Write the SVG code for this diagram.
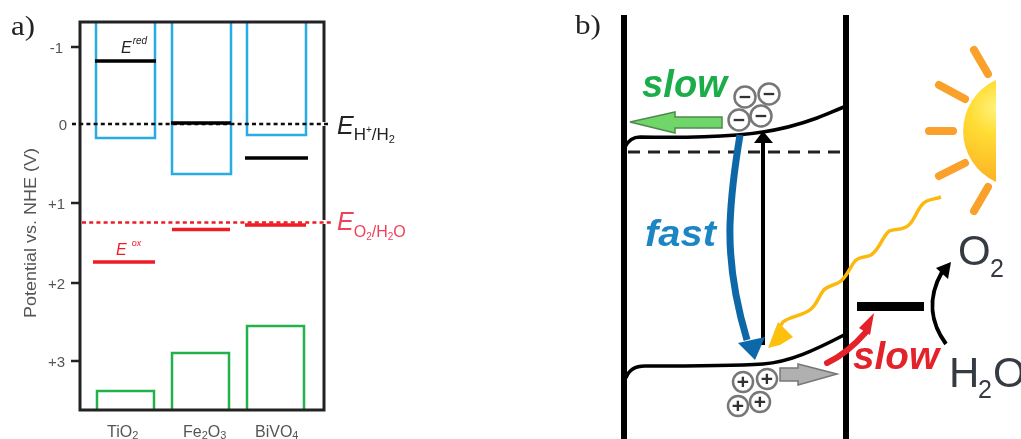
<svg xmlns="http://www.w3.org/2000/svg" width="1021" height="439" viewBox="0 0 1021 439">
<style>
text{font-family:"Liberation Sans",Arial,sans-serif}
.lab{font-family:"Liberation Serif","Times New Roman",serif;font-size:27px;fill:#222}
.tick{font-size:15px;fill:#555;text-anchor:end}
.mat{font-size:16px;fill:#555}
.cb{fill:none;stroke:#29abe2;stroke-width:2.5}
.vb{fill:none;stroke:#22b14c;stroke-width:2.5}
.lk{stroke:#000;stroke-width:3.5;fill:none}
.lr{stroke:#ee1c25;stroke-width:3.5;fill:none}
.tk{stroke:#222;stroke-width:2.5}
.em{font-style:italic}
.slow{font-size:38px;font-weight:bold;font-style:italic}
.wall{stroke:#000;stroke-width:6}
.c{fill:#fff;stroke:#777;stroke-width:2.5}
.s{font-size:21px;font-weight:bold;fill:#333;text-anchor:middle}
.ray{stroke:#f9a12b;stroke-width:8;stroke-linecap:round}
.gas{font-size:42px;fill:#353b42}
.gs{font-size:25px;fill:#353b42}
</style>
<defs>
<radialGradient id="sun" gradientUnits="userSpaceOnUse" cx="996" cy="108" r="78">
<stop offset="0" stop-color="#fff27a"/><stop offset=".35" stop-color="#ffdc32"/><stop offset="1" stop-color="#fbb024"/>
</radialGradient>
<filter id="soft" x="0" y="0" width="100%" height="100%"><feGaussianBlur stdDeviation="0.55"/></filter>
</defs>
<rect width="1021" height="439" fill="#fff"/>
<g filter="url(#soft)">
<g id="panel-a">
<text class="lab" x="11" y="35" textLength="24" lengthAdjust="spacingAndGlyphs">a)</text>
<g id="cb-bands">
<path class="cb" d="M96 23V138H155V23"/>
<path class="cb" d="M172 23V174H231V23"/>
<path class="cb" d="M247 23V135H306V23"/>
</g>
<g id="vb-bands">
<path class="vb" d="M97 409V391H154V409"/>
<path class="vb" d="M172 409V353H229V409"/>
<path class="vb" d="M247 409V326H304V409"/>
</g>
<rect x="80" y="22" width="244" height="388" fill="none" stroke="#222" stroke-width="3"/>
<g id="ticks">
<path class="tk" d="M71 47H80M71 203H80M71 283H80M71 361H80"/>
<text class="tick" x="63" y="53">-1</text>
<text class="tick" x="67" y="130">0</text>
<text class="tick" x="65" y="209">+1</text>
<text class="tick" x="65" y="289">+2</text>
<text class="tick" x="65" y="367">+3</text>
<text transform="translate(36 233) rotate(-90)" text-anchor="middle" font-size="16" fill="#555" textLength="170" lengthAdjust="spacingAndGlyphs">Potential vs. NHE (V)</text>
</g>
<g id="levels">
<path d="M322 124H326M322 222H326" stroke="#fff" stroke-width="4"/>
<path d="M72 124H331" stroke="#111" stroke-width="2.5" stroke-dasharray="4 3.2"/>
<path d="M82 222.500H331" stroke="#ee1c25" stroke-width="2.500" stroke-dasharray="4 3.200"/>
<path class="lk" d="M95 61H156M171 123H231M245 158H308"/>
<path class="lr" d="M93 262H155M172 229.500H230M245 225H306"/>
</g>
<text class="em" x="121" y="53" font-size="16" fill="#222">E<tspan font-size="10" dx="1" dy="-9">red</tspan></text>
<text class="em" x="116" y="255" font-size="16" fill="#ee1c25">E<tspan font-size="9" dx="5" dy="-9">ox</tspan></text>
<text x="337" y="134" font-size="25" fill="#222"><tspan class="em">E</tspan><tspan font-size="17" dy="6">H<tspan font-size="10" dy="-7">+</tspan><tspan dy="7">/H</tspan><tspan font-size="11" dy="3">2</tspan></tspan></text>
<text x="337" y="230" font-size="25" fill="#f0405a"><tspan class="em">E</tspan><tspan font-size="16" dy="7">O<tspan font-size="10" dy="3">2</tspan><tspan dy="-3">/H</tspan><tspan font-size="10" dy="3">2</tspan><tspan dy="-3">O</tspan></tspan></text>
<g id="materials">
<text class="mat" x="107" y="437">TiO<tspan font-size="11" dy="2">2</tspan></text>
<text class="mat" x="183" y="437">Fe<tspan font-size="11" dy="2">2</tspan><tspan dy="-2">O</tspan><tspan font-size="11" dy="2">3</tspan></text>
<text class="mat" x="255" y="437">BiVO<tspan font-size="11" dy="2">4</tspan></text>
</g>
</g>
<g id="panel-b">
<text class="lab" x="575" y="34" textLength="26" lengthAdjust="spacingAndGlyphs">b)</text>
<g id="walls">
<path class="wall" d="M624 15V439M846 15V439"/>
</g>
<g id="connectors" fill="none" stroke-linejoin="round">
<path d="M625 147Q630 137 640 137C680 138 710 137 737 135C765 133 790 128 817 118C828 114 836 110 844 107" stroke="#000" stroke-width="3.500"/>
<path d="M628 152H840" stroke="#222" stroke-width="3" stroke-dasharray="12 8"/>
<path d="M626 378Q630 366 645 366C690 366 730 366 763 364C790 362 815 350 844 335" stroke="#000" stroke-width="3.500"/>
<path d="M763 345V138" stroke="#000" stroke-width="4"/>
<path d="M763 131L773 143H754Z" fill="#000"/>
<path d="M740 135C735 165 731 195 730 225C729 265 735 300 747 340" stroke="#0f68a8" stroke-width="7"/>
<path d="M755 360L738 343L765 337Z" fill="#0f68a8"/>
<path d="M941 197C932 200 926 199 921 206C915 214 913 224 906 227C899 231 893 228 888 232C882 238 879 250 871 255C865 258 860 256 855 261C850 267 848 275 841 281C835 286 827 285 823 291C818 298 817 304 811 309C803 316 790 316 783 322L776 332" stroke="#fbb80f" stroke-width="3.500"/>
<path d="M768 348L778 322L793 337L780 345Z" fill="#fcc00d"/>
<path d="M827 363C840 357 852 348 866 332" stroke="#e3202c" stroke-width="6" stroke-linecap="round"/>
<path d="M874 313L859 328L870 335Z" fill="#e3202c"/>
<path d="M946 344C932 325 926 300 942 272" stroke="#000" stroke-width="4"/>
<path d="M951 262L936 268L948 279Z" fill="#000"/>
</g>
<g id="arrow-electron-slow">
<path d="M630 122L675 112V117H722V128H675V133Z" fill="#71d66b" stroke="#4d8a4d" stroke-width="1.500"/>
<text class="slow" x="642" y="97" fill="#1cad4b" textLength="85" lengthAdjust="spacingAndGlyphs">slow</text>
</g>
<g id="label-fast"><text x="645" y="246" font-size="36" font-weight="bold" font-style="italic" fill="#1b86c5" textLength="71" lengthAdjust="spacingAndGlyphs">fast</text></g>
<g id="electrons">
<circle class="c" cx="745" cy="97" r="10.500"/><text class="s" x="745" y="104">−</text>
<circle class="c" cx="769" cy="94" r="10.500"/><text class="s" x="769" y="101">−</text>
<circle class="c" cx="739" cy="120" r="10.500"/><text class="s" x="739" y="127">−</text>
<circle class="c" cx="761" cy="116" r="10.500"/><text class="s" x="761" y="123">−</text>
</g>
<g id="holes">
<circle class="c" cx="743" cy="382" r="10"/><text class="s" x="743" y="389">+</text>
<circle class="c" cx="767" cy="379" r="10"/><text class="s" x="767" y="386">+</text>
<circle class="c" cx="738" cy="406" r="10"/><text class="s" x="738" y="413">+</text>
<circle class="c" cx="760" cy="402" r="10"/><text class="s" x="760" y="409">+</text>
</g>
<g id="arrow-hole-slow">
<path d="M837 374L798 364V368H780V381H798V385Z" fill="#b0b0b0" stroke="#777" stroke-width="1.500"/>
</g>
<g id="label-slow-red"><text class="slow" x="853" y="369" fill="#e3202c" textLength="86" lengthAdjust="spacingAndGlyphs">slow</text></g>
<g id="cocatalyst"><rect x="857" y="302" width="67" height="9" fill="#000"/></g>
<g id="o2"><text class="gas" x="958" y="265">O</text><text class="gs" x="990" y="277">2</text></g>
<g id="h2o"><text class="gas" x="949" y="387">H</text><text class="gs" x="978" y="398">2</text><text class="gas" x="993" y="387">O</text></g>
<g id="sun-icon">
<path d="M996 80A56 56 0 0 0 996 182Z" fill="url(#sun)"/>
<path class="ray" d="M974 50L988 74M939 85L965 99M929 131H953M939 176L965 163M974 211L988 187"/>
</g>
</g>
</g>
</svg>
